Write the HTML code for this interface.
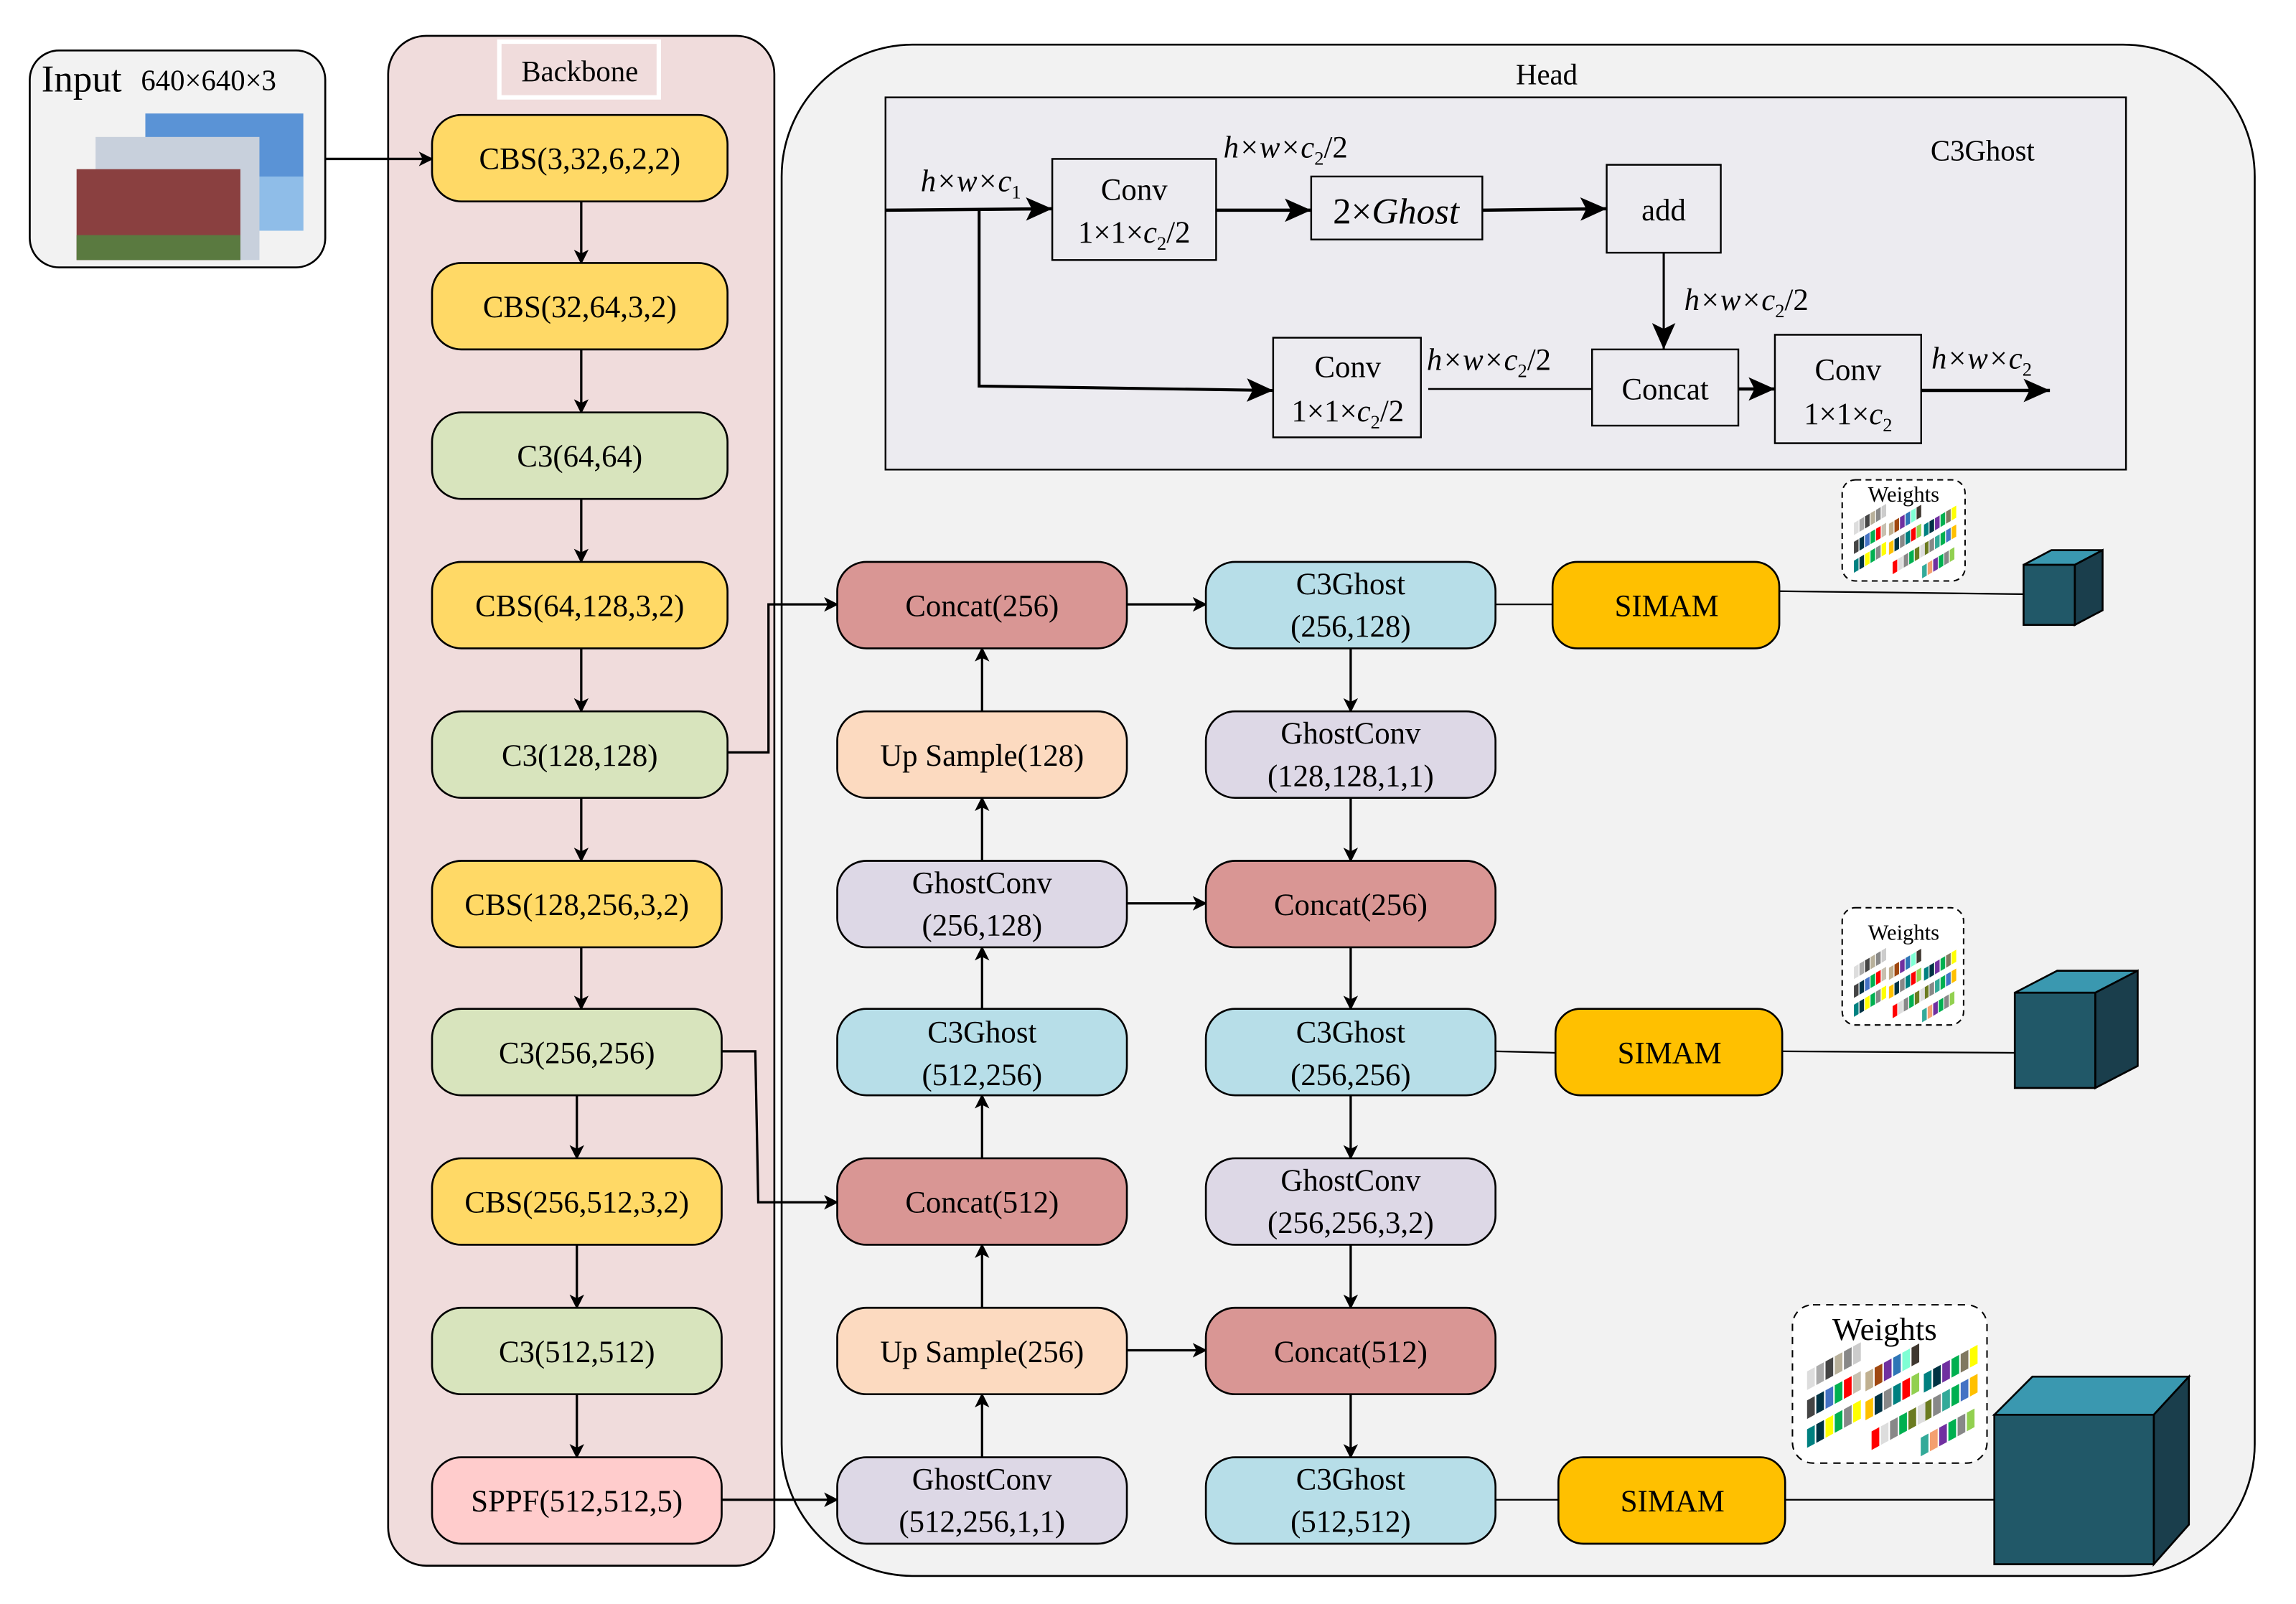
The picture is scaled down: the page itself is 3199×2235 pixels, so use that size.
<!DOCTYPE html>
<html><head><meta charset="utf-8"><style>
html,body{margin:0;padding:0;background:#fff}
svg{display:block}
text{font-family:"Liberation Serif",serif;fill:#000}
</style></head><body>
<svg width="3199" height="2235" viewBox="0 0 1560 1090" preserveAspectRatio="none" xmlns="http://www.w3.org/2000/svg">
<defs>
<marker id="ar" markerWidth="10" markerHeight="10" refX="9" refY="5" orient="auto" markerUnits="userSpaceOnUse">
<path d="M0,0 L10,5 L0,10 L2.5,5 Z" fill="#000"/></marker>
<marker id="ar2" markerWidth="20" markerHeight="16" refX="18" refY="8" orient="auto" markerUnits="userSpaceOnUse">
<path d="M0,0 L18,8 L0,16 L4,8 Z" fill="#000"/></marker>
<g id="sw">
<g transform="skewY(-22)">
<rect x="4" y="30" width="5" height="9" fill="#ddd"/><rect x="10" y="30" width="5" height="9" fill="#aaa"/><rect x="16" y="30" width="5" height="9" fill="#444"/><rect x="22" y="30" width="5" height="9" fill="#b8b09a"/><rect x="28" y="30" width="5" height="9" fill="#888"/><rect x="34" y="30" width="5" height="9" fill="#ccc"/>
<rect x="42" y="46" width="5" height="9" fill="#c0b090"/><rect x="48" y="46" width="5" height="9" fill="#a04810"/><rect x="54" y="46" width="5" height="9" fill="#7030a0"/><rect x="60" y="46" width="5" height="9" fill="#2e75b6"/><rect x="66" y="46" width="5" height="9" fill="#7fffd4"/><rect x="72" y="46" width="5" height="9" fill="#403830"/>
<rect x="80" y="62" width="5" height="9" fill="#008080"/><rect x="86" y="62" width="5" height="9" fill="#034"/><rect x="92" y="62" width="5" height="9" fill="#7030a0"/><rect x="98" y="62" width="5" height="9" fill="#00b050"/><rect x="104" y="62" width="5" height="9" fill="#807860"/><rect x="110" y="62" width="5" height="9" fill="#ff0"/>
<rect x="4" y="44" width="5" height="9" fill="#444"/><rect x="10" y="44" width="5" height="9" fill="#034"/><rect x="16" y="44" width="5" height="9" fill="#4472c4"/><rect x="22" y="44" width="5" height="9" fill="#00b050"/><rect x="28" y="44" width="5" height="9" fill="#f00"/><rect x="34" y="44" width="5" height="9" fill="#c8c0b0"/>
<rect x="42" y="60" width="5" height="9" fill="#ffc000"/><rect x="48" y="60" width="5" height="9" fill="#034"/><rect x="54" y="60" width="5" height="9" fill="#888"/><rect x="60" y="60" width="5" height="9" fill="#008080"/><rect x="66" y="60" width="5" height="9" fill="#f00"/><rect x="72" y="60" width="5" height="9" fill="#92d050"/>
<rect x="80" y="76" width="5" height="9" fill="#6b7b20"/><rect x="86" y="76" width="5" height="9" fill="#888"/><rect x="92" y="76" width="5" height="9" fill="#3a9"/><rect x="98" y="76" width="5" height="9" fill="#00b050"/><rect x="104" y="76" width="5" height="9" fill="#4472c4"/><rect x="110" y="76" width="5" height="9" fill="#ffc000"/>
<rect x="4" y="58" width="5" height="9" fill="#008080"/><rect x="10" y="58" width="5" height="9" fill="#034"/><rect x="16" y="58" width="5" height="9" fill="#ff0"/><rect x="22" y="58" width="5" height="9" fill="#00b050"/><rect x="28" y="58" width="5" height="9" fill="#888"/><rect x="34" y="58" width="5" height="9" fill="#ff0"/>
<rect x="46" y="76" width="5" height="9" fill="#f00"/><rect x="52" y="76" width="5" height="9" fill="#ddd"/><rect x="58" y="76" width="5" height="9" fill="#888"/><rect x="64" y="76" width="5" height="9" fill="#00b050"/><rect x="70" y="76" width="5" height="9" fill="#6b7b20"/><rect x="76" y="76" width="5" height="9" fill="#ddd"/>
<rect x="78" y="92" width="5" height="9" fill="#3a9"/><rect x="84" y="92" width="5" height="9" fill="#f4a070"/><rect x="90" y="92" width="5" height="9" fill="#7030a0"/><rect x="96" y="92" width="5" height="9" fill="#00b050"/><rect x="102" y="92" width="5" height="9" fill="#888"/><rect x="108" y="92" width="5" height="9" fill="#92d050"/>
</g></g>
</defs>
<g transform="matrix(0.9939 0 0 0.9958 1.34 0.45)">
<!-- Input -->
<rect x="19" y="34" width="202" height="148" rx="20" fill="#f2f2f2" stroke="#000" stroke-width="1.3"/>
<text x="27" y="62" font-size="26">Input</text>
<text x="95" y="61" font-size="20">640×640×3</text>
<rect x="98" y="77" width="108" height="80" fill="#5a93d6"/>
<rect x="98" y="120" width="108" height="37" fill="#8fbde8"/>
<rect x="64" y="93" width="112" height="84" fill="#c8d0dc"/>
<rect x="51" y="115" width="112" height="62" fill="#8a4040"/>
<rect x="51" y="160" width="112" height="17" fill="#5a7a40"/>

<!-- Backbone -->
<rect x="264" y="24" width="264" height="1044" rx="26" fill="#f0dcdc" stroke="#000" stroke-width="1.3"/>
<rect x="340" y="28" width="109" height="38" fill="none" stroke="#fff" stroke-width="3"/>
<text x="395" y="55" font-size="20" text-anchor="middle">Backbone</text>

<!-- Head -->
<path d="M623,30 H1450 A90,90 0 0 1 1540,120 V985 A90,90 0 0 1 1450,1075 H623 A90,90 0 0 1 533,985 V120 A90,90 0 0 1 623,30 Z" fill="#f2f2f2" stroke="#000" stroke-width="1.3"/>
<text x="1056" y="57" font-size="20" text-anchor="middle">Head</text>

<!-- C3Ghost detail -->
<rect x="604" y="66" width="848" height="254" fill="#ecebf0" stroke="#000" stroke-width="1.2"/>
<text x="1354" y="109" font-size="20" text-anchor="middle">C3Ghost</text>
<g stroke="#000" fill="none">
<line x1="604" y1="143" x2="718" y2="142" stroke-width="2.2" marker-end="url(#ar2)"/>
<polyline points="668,143 668,263 869,266" stroke-width="2" marker-end="url(#ar2)"/>
<line x1="830" y1="143" x2="895" y2="143" stroke-width="2.2" marker-end="url(#ar2)"/>
<line x1="1012" y1="143" x2="1097" y2="142" stroke-width="2.2" marker-end="url(#ar2)"/>
<line x1="1136" y1="172" x2="1136" y2="238" stroke-width="1.5" marker-end="url(#ar2)"/>
<line x1="975" y1="265" x2="1087" y2="265" stroke-width="1.2"/>
<line x1="1187" y1="265" x2="1212" y2="265" stroke-width="2.2" marker-end="url(#ar2)"/>
<line x1="1312" y1="266" x2="1400" y2="266" stroke-width="2.2" marker-end="url(#ar2)"/>
<rect x="718" y="108" width="112" height="69" fill="#ecebf0" stroke-width="1.2"/>
<rect x="895" y="120" width="117" height="43" fill="#ecebf0" stroke-width="1.2"/>
<rect x="1097" y="112" width="78" height="60" fill="#ecebf0" stroke-width="1.2"/>
<rect x="869" y="230" width="101" height="68" fill="#ecebf0" stroke-width="1.2"/>
<rect x="1087" y="238" width="100" height="52" fill="#ecebf0" stroke-width="1.2"/>
<rect x="1212" y="228" width="100" height="74" fill="#ecebf0" stroke-width="1.2"/>
</g>
<g font-size="21">
<text x="774" y="136" text-anchor="middle">Conv</text>
<text x="774" y="165" text-anchor="middle">1×1×<tspan font-style="italic">c</tspan><tspan font-size="13" dy="5">2</tspan><tspan dy="-5">/2</tspan></text>
<text x="953" y="152" text-anchor="middle" font-size="25">2×<tspan font-style="italic">Ghost</tspan></text>
<text x="1136" y="150" text-anchor="middle">add</text>
<text x="920" y="257" text-anchor="middle">Conv</text>
<text x="920" y="287" text-anchor="middle">1×1×<tspan font-style="italic">c</tspan><tspan font-size="13" dy="5">2</tspan><tspan dy="-5">/2</tspan></text>
<text x="1137" y="272" text-anchor="middle">Concat</text>
<text x="1262" y="259" text-anchor="middle">Conv</text>
<text x="1262" y="289" text-anchor="middle">1×1×<tspan font-style="italic">c</tspan><tspan font-size="13" dy="5">2</tspan></text>
<text x="628" y="130" font-style="italic">h×w×c<tspan font-size="13" dy="5" font-style="normal">1</tspan></text>
<text x="835" y="107" font-style="italic">h×w×c<tspan font-size="13" dy="5" font-style="normal">2</tspan><tspan dy="-5" font-style="normal">/2</tspan></text>
<text x="1150" y="211" font-style="italic">h×w×c<tspan font-size="13" dy="5" font-style="normal">2</tspan><tspan dy="-5" font-style="normal">/2</tspan></text>
<text x="974" y="252" font-style="italic">h×w×c<tspan font-size="13" dy="5" font-style="normal">2</tspan><tspan dy="-5" font-style="normal">/2</tspan></text>
<text x="1319" y="251" font-style="italic">h×w×c<tspan font-size="13" dy="5" font-style="normal">2</tspan></text>
</g>

<!-- connectors -->
<g stroke="#000" stroke-width="1.6" fill="none">
<line x1="221" y1="108" x2="294" y2="108" marker-end="url(#ar)"/>
<line x1="396" y1="137" x2="396" y2="179" marker-end="url(#ar)"/>
<line x1="396" y1="238" x2="396" y2="281" marker-end="url(#ar)"/>
<line x1="396" y1="340" x2="396" y2="383" marker-end="url(#ar)"/>
<line x1="396" y1="442" x2="396" y2="485" marker-end="url(#ar)"/>
<line x1="396" y1="544" x2="396" y2="587" marker-end="url(#ar)"/>
<line x1="396" y1="646" x2="396" y2="688" marker-end="url(#ar)"/>
<line x1="393" y1="747" x2="393" y2="790" marker-end="url(#ar)"/>
<line x1="393" y1="849" x2="393" y2="892" marker-end="url(#ar)"/>
<line x1="393" y1="951" x2="393" y2="994" marker-end="url(#ar)"/>
<polyline points="496,513 524,513 524,412 571,412" marker-end="url(#ar)"/>
<polyline points="492,717 515,717 517,820 571,820" marker-end="url(#ar)"/>
<line x1="492" y1="1023" x2="571" y2="1023" marker-end="url(#ar)"/>
<line x1="670" y1="994" x2="670" y2="951" marker-end="url(#ar)"/>
<line x1="670" y1="892" x2="670" y2="849" marker-end="url(#ar)"/>
<line x1="670" y1="790" x2="670" y2="747" marker-end="url(#ar)"/>
<line x1="670" y1="688" x2="670" y2="646" marker-end="url(#ar)"/>
<line x1="670" y1="587" x2="670" y2="544" marker-end="url(#ar)"/>
<line x1="670" y1="485" x2="670" y2="442" marker-end="url(#ar)"/>
<line x1="769" y1="412" x2="823" y2="412" marker-end="url(#ar)"/>
<line x1="769" y1="616" x2="823" y2="616" marker-end="url(#ar)"/>
<line x1="769" y1="921" x2="823" y2="921" marker-end="url(#ar)"/>
<line x1="922" y1="442" x2="922" y2="485" marker-end="url(#ar)"/>
<line x1="922" y1="544" x2="922" y2="587" marker-end="url(#ar)"/>
<line x1="922" y1="646" x2="922" y2="688" marker-end="url(#ar)"/>
<line x1="922" y1="747" x2="922" y2="790" marker-end="url(#ar)"/>
<line x1="922" y1="849" x2="922" y2="892" marker-end="url(#ar)"/>
<line x1="922" y1="951" x2="922" y2="994" marker-end="url(#ar)"/>
<g stroke-width="1.1">
<line x1="1021" y1="412" x2="1060" y2="412"/>
<line x1="1021" y1="717" x2="1062" y2="718"/>
<line x1="1021" y1="1023" x2="1064" y2="1023"/>
<line x1="1215" y1="403" x2="1382" y2="405"/>
<line x1="1217" y1="717" x2="1376" y2="718"/>
<line x1="1219" y1="1023" x2="1378" y2="1023"/>
</g>
</g>

<!-- boxes -->
<g stroke="#000" stroke-width="1.3">
<rect x="294" y="78" width="202" height="59" rx="20" fill="#ffd966"/>
<rect x="294" y="179" width="202" height="59" rx="20" fill="#ffd966"/>
<rect x="294" y="281" width="202" height="59" rx="20" fill="#d8e4bd"/>
<rect x="294" y="383" width="202" height="59" rx="20" fill="#ffd966"/>
<rect x="294" y="485" width="202" height="59" rx="20" fill="#d8e4bd"/>
<rect x="294" y="587" width="198" height="59" rx="20" fill="#ffd966"/>
<rect x="294" y="688" width="198" height="59" rx="20" fill="#d8e4bd"/>
<rect x="294" y="790" width="198" height="59" rx="20" fill="#ffd966"/>
<rect x="294" y="892" width="198" height="59" rx="20" fill="#d8e4bd"/>
<rect x="294" y="994" width="198" height="59" rx="20" fill="#ffcccc"/>

<rect x="571" y="383" width="198" height="59" rx="20" fill="#d99694"/>
<rect x="571" y="485" width="198" height="59" rx="20" fill="#fcdac0"/>
<rect x="571" y="587" width="198" height="59" rx="20" fill="#ddd8e6"/>
<rect x="571" y="688" width="198" height="59" rx="20" fill="#b7dee8"/>
<rect x="571" y="790" width="198" height="59" rx="20" fill="#d99694"/>
<rect x="571" y="892" width="198" height="59" rx="20" fill="#fcdac0"/>
<rect x="571" y="994" width="198" height="59" rx="20" fill="#ddd8e6"/>

<rect x="823" y="383" width="198" height="59" rx="20" fill="#b7dee8"/>
<rect x="823" y="485" width="198" height="59" rx="20" fill="#ddd8e6"/>
<rect x="823" y="587" width="198" height="59" rx="20" fill="#d99694"/>
<rect x="823" y="688" width="198" height="59" rx="20" fill="#b7dee8"/>
<rect x="823" y="790" width="198" height="59" rx="20" fill="#ddd8e6"/>
<rect x="823" y="892" width="198" height="59" rx="20" fill="#d99694"/>
<rect x="823" y="994" width="198" height="59" rx="20" fill="#b7dee8"/>

<rect x="1060" y="383" width="155" height="59" rx="17" fill="#ffc000"/>
<rect x="1062" y="688" width="155" height="59" rx="17" fill="#ffc000"/>
<rect x="1064" y="994" width="155" height="59" rx="17" fill="#ffc000"/>
</g>

<g font-size="21" text-anchor="middle">
<text x="395" y="115">CBS(3,32,6,2,2)</text>
<text x="395" y="216">CBS(32,64,3,2)</text>
<text x="395" y="318">C3(64,64)</text>
<text x="395" y="420">CBS(64,128,3,2)</text>
<text x="395" y="522">C3(128,128)</text>
<text x="393" y="624">CBS(128,256,3,2)</text>
<text x="393" y="725">C3(256,256)</text>
<text x="393" y="827">CBS(256,512,3,2)</text>
<text x="393" y="929">C3(512,512)</text>
<text x="393" y="1031">SPPF(512,512,5)</text>

<text x="670" y="420">Concat(256)</text>
<text x="670" y="522">Up Sample(128)</text>
<text x="670" y="609">GhostConv</text><text x="670" y="638">(256,128)</text>
<text x="670" y="711">C3Ghost</text><text x="670" y="740">(512,256)</text>
<text x="670" y="827">Concat(512)</text>
<text x="670" y="929">Up Sample(256)</text>
<text x="670" y="1016">GhostConv</text><text x="670" y="1045">(512,256,1,1)</text>

<text x="922" y="405">C3Ghost</text><text x="922" y="434">(256,128)</text>
<text x="922" y="507">GhostConv</text><text x="922" y="536">(128,128,1,1)</text>
<text x="922" y="624">Concat(256)</text>
<text x="922" y="711">C3Ghost</text><text x="922" y="740">(256,256)</text>
<text x="922" y="812">GhostConv</text><text x="922" y="841">(256,256,3,2)</text>
<text x="922" y="929">Concat(512)</text>
<text x="922" y="1016">C3Ghost</text><text x="922" y="1045">(512,512)</text>

<text x="1138" y="420">SIMAM</text>
<text x="1140" y="725">SIMAM</text>
<text x="1142" y="1031">SIMAM</text>
</g>

<!-- weights -->
<rect x="1258" y="327" width="84" height="69" rx="9" fill="#fff" stroke="#000" stroke-dasharray="4,3"/>
<text x="1300" y="342" font-size="15" text-anchor="middle">Weights</text>
<use href="#sw" transform="translate(1263.5,330.3) scale(0.63,0.92)"/>
<rect x="1258" y="619" width="83" height="80" rx="9" fill="#fff" stroke="#000" stroke-dasharray="4,3"/>
<text x="1300" y="641" font-size="15" text-anchor="middle">Weights</text>
<use href="#sw" transform="translate(1263.5,633.3) scale(0.63,0.92)"/>
<rect x="1224" y="890" width="133" height="108" rx="14" fill="#fff" stroke="#000" stroke-dasharray="5,4"/>
<text x="1287" y="914" font-size="22" text-anchor="middle">Weights</text>
<use href="#sw" transform="translate(1229.8,895.4) scale(1.05,1.41)"/>

<!-- cubes -->
<g stroke="#000" stroke-width="1.3">
<polygon points="1382,385 1401,375 1436,375 1417,385" fill="#3a98b0"/>
<polygon points="1417,385 1436,375 1436,416 1417,426" fill="#1a3e4c"/>
<rect x="1382" y="385" width="35" height="41" fill="#215868"/>
<polygon points="1376,677 1405,662 1460,662 1431,677" fill="#3a98b0"/>
<polygon points="1431,677 1460,662 1460,727 1431,742" fill="#1a3e4c"/>
<rect x="1376" y="677" width="55" height="65" fill="#215868"/>
<polygon points="1362,965 1388,939 1495,939 1471,965" fill="#3a98b0"/>
<polygon points="1471,965 1495,939 1495,1040 1471,1067" fill="#1a3e4c"/>
<rect x="1362" y="965" width="109" height="102" fill="#215868"/>
</g>
</g>
</svg>
</body></html>
